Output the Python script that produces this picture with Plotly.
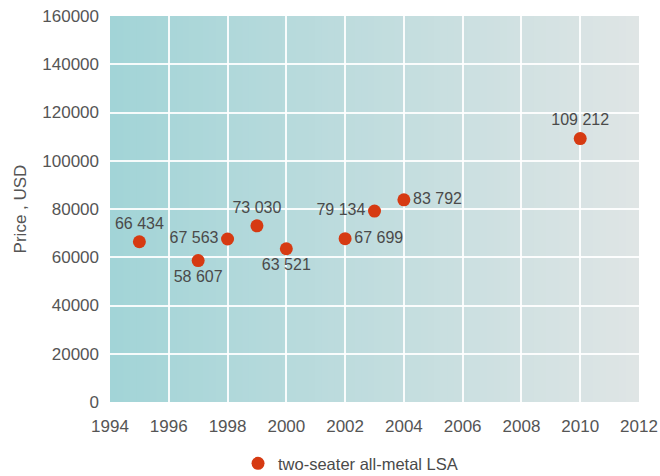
import plotly.graph_objects as go

years = [1995, 1997, 1998, 1999, 2000, 2002, 2003, 2004, 2010]
prices = [66434, 58607, 67563, 73030, 63521, 67699, 79134, 83792, 109212]
labels = ["66 434", "58 607", "67 563", "73 030", "63 521", "67 699", "79 134", "83 792", "109 212"]
label_pos = ["top center", "bottom center", "middle left", "top center", "bottom center",
             "middle right", "middle left", "middle right", "top center"]
series_name = "two-seater all-metal LSA"

FONT = "Liberation Sans, Arial, sans-serif"

def lerp(c1, c2, t):
    return tuple(round(a + (b - a) * t) for a, b in zip(c1, c2))

left_c = (0xA2, 0xD4, 0xD7)
right_c = (0xDF, 0xE5, 0xE5)
N = 80
shapes = []
for i in range(N):
    c = lerp(left_c, right_c, (i + 0.5) / N)
    shapes.append(dict(type="rect", xref="paper", yref="paper",
                       x0=i / N, x1=min((i + 1.6) / N, 1), y0=0, y1=1,
                       fillcolor="rgb(%d,%d,%d)" % c, line=dict(width=0), layer="below"))

fig = go.Figure()
fig.add_trace(go.Scatter(
    x=years, y=prices, mode="markers+text", name=series_name,
    text=labels, textposition=label_pos,
    textfont=dict(family=FONT, size=16, color="#4a4a4a"),
    marker=dict(size=13, color="#d63a12"),
))

fig.update_layout(
    width=660, height=476,
    margin=dict(l=110, r=21, t=16, b=74, autoexpand=False),
    paper_bgcolor="white", plot_bgcolor="rgba(0,0,0,0)",
    shapes=shapes,
    showlegend=True,
    legend=dict(orientation="h", x=0.242, xanchor="left",
                yref="container", y=0.026, yanchor="middle",
                font=dict(family=FONT, size=16.5, color="#4a4a4a")),
    xaxis=dict(range=[1994, 2012.0001], dtick=2, tick0=1994, showgrid=True,
               gridcolor="rgba(255,255,255,0.9)", gridwidth=2, zeroline=False,
               showline=False, ticks="", ticklabelstandoff=12, automargin=False,
               tickfont=dict(family=FONT, size=17, color="#555555")),
    yaxis=dict(range=[0, 160000], dtick=20000, showgrid=True,
               gridcolor="rgba(255,255,255,0.9)", gridwidth=2, zeroline=False,
               showline=False, ticks="", tickformat="d", ticklabelstandoff=10,
               automargin=False,
               title=dict(text="Price , USD", standoff=11,
                          font=dict(family=FONT, size=17, color="#555555")),
               tickfont=dict(family=FONT, size=17, color="#555555")),
)

fig.write_html("out.html")
